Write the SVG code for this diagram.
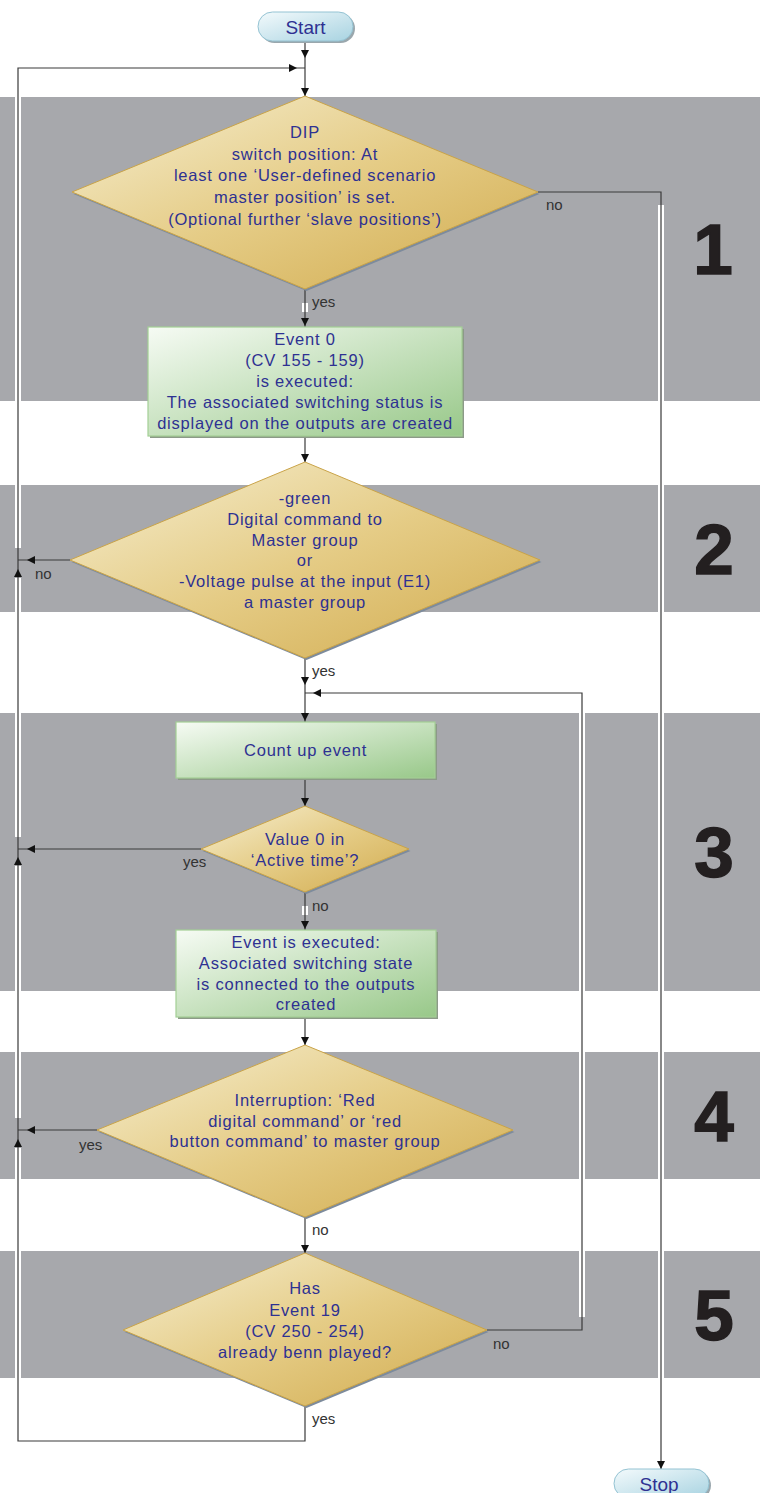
<svg xmlns="http://www.w3.org/2000/svg" xmlns:xlink="http://www.w3.org/1999/xlink" width="760" height="1493" viewBox="0 0 760 1493">
<defs>
<linearGradient id="gDia" x1="0" y1="0" x2="1" y2="1">
<stop offset="0" stop-color="#f6efd2"/>
<stop offset="0.5" stop-color="#e5cc86"/>
<stop offset="1" stop-color="#d1ab4e"/>
</linearGradient>
<linearGradient id="gBox" x1="0" y1="0" x2="1" y2="1">
<stop offset="0" stop-color="#f6fbf4"/>
<stop offset="1" stop-color="#98c889"/>
</linearGradient>
<linearGradient id="gPill" x1="0" y1="0" x2="1" y2="1">
<stop offset="0" stop-color="#f3fafc"/>
<stop offset="1" stop-color="#a8d3e1"/>
</linearGradient>
<path id="ah" d="M0,0 L-8,-4 L-8,4 Z"/>
<style>
.band{fill:#a7a8ac}
.halo{stroke:#ffffff;stroke-width:6;fill:none}
.ln{stroke:#3a3a3a;stroke-width:1.2;fill:none}
.arr{fill:#111111}
.dia{fill:url(#gDia);stroke:#c9a348;stroke-width:1}
.diash{fill:#7d8b9c}
.box{fill:url(#gBox);stroke:#a3cf95;stroke-width:1.2}
.boxsh{fill:#8c9a88}
.pill{fill:url(#gPill);stroke:#94c3d3;stroke-width:1}
.pillsh{fill:#9aa7ad}
.t{font-family:"Liberation Sans",Arial,sans-serif;font-size:16.5px;letter-spacing:0.8px;fill:#2e3192;text-anchor:middle}
.tp{font-family:"Liberation Sans",Arial,sans-serif;font-size:19px;fill:#2e3192;text-anchor:middle}
.lb{font-family:"Liberation Sans",Arial,sans-serif;font-size:15px;fill:#333333}
.num{font-family:"Liberation Sans",Arial,sans-serif;font-size:71px;font-weight:bold;fill:#231f20;stroke:#231f20;stroke-width:1.5;text-anchor:middle}
</style>
</defs>
<rect width="760" height="1493" fill="#ffffff"/>
<g id="bands">
<rect class="band" x="0" y="97" width="760" height="304"/>
<rect class="band" x="0" y="485" width="760" height="127"/>
<rect class="band" x="0" y="713" width="760" height="278"/>
<rect class="band" x="0" y="1052" width="760" height="127"/>
<rect class="band" x="0" y="1251" width="760" height="127"/>
<text class="num" x="713" y="274">1</text>
<text class="num" x="714" y="574">2</text>
<text class="num" x="714" y="877">3</text>
<text class="num" x="714" y="1141">4</text>
<text class="num" x="714" y="1340">5</text>
</g>
<g id="connectors">
<path class="halo" d="M18,72 V548 M18,578 V837 M18,866 V1118 M18,1148 V1436 M661,205 V1460 M582,700 V1317"/>
<rect x="302" y="303" width="6" height="9" fill="#ffffff"/>
<rect x="302" y="906" width="6" height="9" fill="#ffffff"/>
<path class="ln" d="M305,41 V96"/>
<path class="ln" d="M305,289 V327"/>
<path class="ln" d="M305,436 V462"/>
<path class="ln" d="M70,560 H18"/>
<path class="ln" d="M305,658 V722"/>
<path class="ln" d="M487,1330 H582 V693 H305"/>
<path class="ln" d="M305,778 V806"/>
<path class="ln" d="M201,849 H18"/>
<path class="ln" d="M305,892 V930"/>
<path class="ln" d="M305,1017 V1045"/>
<path class="ln" d="M97,1130 H18"/>
<path class="ln" d="M305,1217 V1253"/>
<path class="ln" d="M305,1406 V1441 H18 V68 H305"/>
<path class="ln" d="M538,192 H661 V1469"/>
<g class="arr">
<use xlink:href="#ah" transform="translate(305,58) rotate(90)"/>
<use xlink:href="#ah" transform="translate(305,96) rotate(90)"/>
<use xlink:href="#ah" transform="translate(297,68)"/>
<use xlink:href="#ah" transform="translate(305,326) rotate(90)"/>
<use xlink:href="#ah" transform="translate(305,462) rotate(90)"/>
<use xlink:href="#ah" transform="translate(27,560) rotate(180)"/>
<use xlink:href="#ah" transform="translate(18,569) rotate(-90)"/>
<use xlink:href="#ah" transform="translate(305,685) rotate(90)"/>
<use xlink:href="#ah" transform="translate(313,693) rotate(180)"/>
<use xlink:href="#ah" transform="translate(305,721) rotate(90)"/>
<use xlink:href="#ah" transform="translate(305,806) rotate(90)"/>
<use xlink:href="#ah" transform="translate(27,849) rotate(180)"/>
<use xlink:href="#ah" transform="translate(18,857) rotate(-90)"/>
<use xlink:href="#ah" transform="translate(305,929) rotate(90)"/>
<use xlink:href="#ah" transform="translate(305,1045) rotate(90)"/>
<use xlink:href="#ah" transform="translate(27,1130) rotate(180)"/>
<use xlink:href="#ah" transform="translate(18,1139) rotate(-90)"/>
<use xlink:href="#ah" transform="translate(305,1253) rotate(90)"/>
<use xlink:href="#ah" transform="translate(661,1469) rotate(90)"/>
</g>
<g id="labels">
<text class="lb" x="546" y="210">no</text>
<text class="lb" x="312" y="307">yes</text>
<text class="lb" x="35" y="579">no</text>
<text class="lb" x="312" y="676">yes</text>
<text class="lb" x="183" y="867">yes</text>
<text class="lb" x="312" y="911">no</text>
<text class="lb" x="79" y="1150">yes</text>
<text class="lb" x="312" y="1235">no</text>
<text class="lb" x="493" y="1349">no</text>
<text class="lb" x="312" y="1424">yes</text>
</g>
</g>
<g id="start">
<rect class="pillsh" x="260" y="14" width="95" height="29" rx="14.5"/>
<rect class="pill" x="258" y="12" width="95" height="29" rx="14.5"/>
<text class="tp" x="305.5" y="34">Start</text>
</g>
<g id="decision1">
<polygon class="diash" points="306.5,98 539.5,194 306.5,291 73.5,194"/>
<polygon class="dia" points="305,96 538,192 305,289 72,192"/>
<text class="t" x="305" y="138">DIP</text>
<text class="t" x="305" y="159.5">switch position: At</text>
<text class="t" x="305" y="181">least one ‘User-defined scenario</text>
<text class="t" x="305" y="203">master position’ is set.</text>
<text class="t" x="305" y="225">(Optional further ‘slave positions’)</text>
</g>
<g id="event0">
<rect class="boxsh" x="150" y="329" width="314" height="109"/>
<rect class="box" x="148" y="327" width="314" height="109"/>
<text class="t" x="305" y="345">Event 0</text>
<text class="t" x="305" y="366">(CV 155 - 159)</text>
<text class="t" x="305" y="387">is executed:</text>
<text class="t" x="305" y="408">The associated switching status is</text>
<text class="t" x="305" y="429">displayed on the outputs are created</text>
</g>
<g id="decision2">
<polygon class="diash" points="306.5,464 541.5,562 306.5,660 71.5,562"/>
<polygon class="dia" points="305,462 540,560 305,658 70,560"/>
<text class="t" x="305" y="504">-green</text>
<text class="t" x="305" y="525">Digital command to</text>
<text class="t" x="305" y="546">Master group</text>
<text class="t" x="305" y="566">or</text>
<text class="t" x="305" y="587">-Voltage pulse at the input (E1)</text>
<text class="t" x="305" y="608">a master group</text>
</g>
<g id="countup">
<rect class="boxsh" x="178" y="724" width="259" height="56"/>
<rect class="box" x="176" y="722" width="259" height="56"/>
<text class="t" x="305.5" y="756">Count up event</text>
</g>
<g id="decision3">
<polygon class="diash" points="306.5,808 410.5,851 306.5,894 202.5,851"/>
<polygon class="dia" points="305,806 409,849 305,892 201,849"/>
<text class="t" x="305" y="845">Value 0 in</text>
<text class="t" x="305" y="866">‘Active time’?</text>
</g>
<g id="execute">
<rect class="boxsh" x="178" y="932" width="260" height="87"/>
<rect class="box" x="176" y="930" width="260" height="87"/>
<text class="t" x="306" y="948">Event is executed:</text>
<text class="t" x="306" y="969">Associated switching state</text>
<text class="t" x="306" y="990">is connected to the outputs</text>
<text class="t" x="306" y="1010">created</text>
</g>
<g id="decision4">
<polygon class="diash" points="306.5,1047 514.5,1132 306.5,1219 98.5,1132"/>
<polygon class="dia" points="305,1045 513,1130 305,1217 97,1130"/>
<text class="t" x="305" y="1106">Interruption: ‘Red</text>
<text class="t" x="305" y="1127">digital command’ or ‘red</text>
<text class="t" x="305" y="1147">button command’ to master group</text>
</g>
<g id="decision5">
<polygon class="diash" points="306.5,1255 488.5,1332 306.5,1408 124.5,1332"/>
<polygon class="dia" points="305,1253 487,1330 305,1406 123,1330"/>
<text class="t" x="305" y="1294">Has</text>
<text class="t" x="305" y="1316">Event 19</text>
<text class="t" x="305" y="1337">(CV 250 - 254)</text>
<text class="t" x="305" y="1358">already benn played?</text>
</g>
<g id="stop">
<rect class="pillsh" x="616" y="1471" width="95" height="29" rx="14.5"/>
<rect class="pill" x="614" y="1469" width="95" height="29" rx="14.5"/>
<text class="tp" x="659" y="1491">Stop</text>
</g>
</svg>
